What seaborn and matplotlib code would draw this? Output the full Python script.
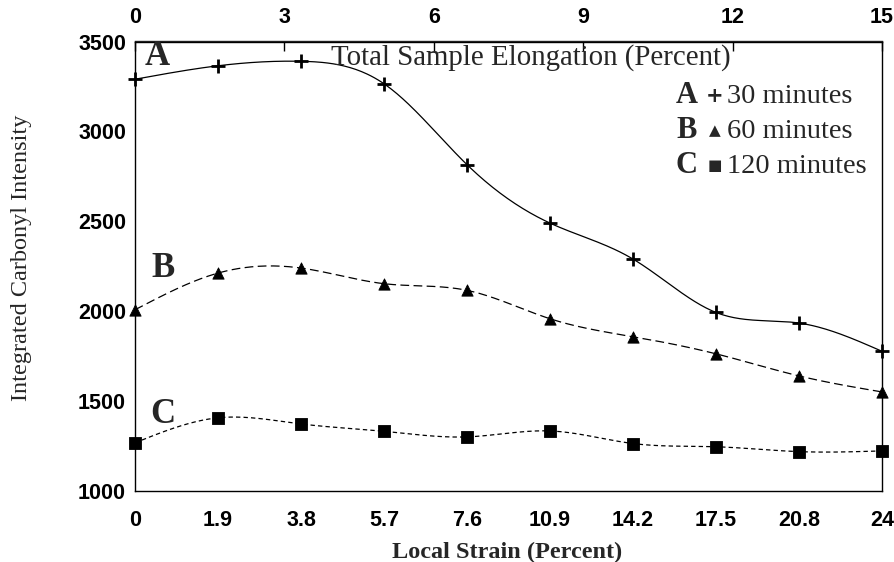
import numpy as np
import pandas as pd
import matplotlib
matplotlib.use("Agg")
import matplotlib.pyplot as plt
import seaborn as sns

# local strain categories (bottom axis) and total elongation ticks (top axis)
strain_labels = ["0", "1.9", "3.8", "5.7", "7.6", "10.9", "14.2", "17.5", "20.8", "24"]
elong_ticks = [0, 3, 6, 9, 12, 15]
y_ticks = [1000, 1500, 2000, 2500, 3000, 3500]

# integrated carbonyl intensity
a_30min = [3290, 3365, 3390, 3265, 2815, 2490, 2290, 1993, 1934, 1777]
b_60min = [2008, 2212, 2240, 2153, 2116, 1958, 1858, 1763, 1640, 1551]
c_120min = [1268, 1407, 1373, 1332, 1301, 1334, 1264, 1246, 1219, 1223]


def natural_spline(x, y, n=400):
    # smooth curve through the points, like the original plotting package did
    x = np.asarray(x, float)
    y = np.asarray(y, float)
    h = np.diff(x)
    m = len(x)
    A = np.zeros((m, m))
    r = np.zeros(m)
    A[0, 0] = A[-1, -1] = 1
    for i in range(1, m - 1):
        A[i, i - 1] = h[i - 1]
        A[i, i] = 2 * (h[i - 1] + h[i])
        A[i, i + 1] = h[i]
        r[i] = 3 * ((y[i + 1] - y[i]) / h[i] - (y[i] - y[i - 1]) / h[i - 1])
    c = np.linalg.solve(A, r)
    b = (y[1:] - y[:-1]) / h - h * (2 * c[:-1] + c[1:]) / 3
    d = (c[1:] - c[:-1]) / (3 * h)
    xs = np.linspace(x[0], x[-1], n)
    idx = np.clip(np.searchsorted(x, xs, side="right") - 1, 0, m - 2)
    dx = xs - x[idx]
    ys = y[idx] + b[idx] * dx + c[idx] * dx ** 2 + d[idx] * dx ** 3
    return xs, ys


sns.set_style("white")
plt.rcParams["font.family"] = ["Liberation Serif", "DejaVu Serif"]

fig = plt.figure(figsize=(8.95, 5.62), dpi=100)
ax = fig.add_axes([135 / 895, 1 - 491 / 562, 747 / 895, 449.5 / 562])

pos = np.arange(len(strain_labels))
series = [
    (a_30min, "-", "+"),
    (b_60min, (0, (7, 3.5)), "^"),
    (c_120min, (0, (3.5, 2.5)), "s"),
]
for vals, ls, mk in series:
    xs, ys = natural_spline(pos, vals)
    smooth = pd.DataFrame({"x": xs, "y": ys})
    sns.lineplot(data=smooth, x="x", y="y", ax=ax, color="black",
                 linewidth=0.9, linestyle=ls, sort=False, errorbar=None)
    pts = pd.DataFrame({"x": pos, "y": vals})
    if mk == "+":
        sns.scatterplot(data=pts, x="x", y="y", ax=ax, marker="+", s=90,
                        color="black", linewidth=2.0, clip_on=False, zorder=4)
    else:
        sns.scatterplot(data=pts, x="x", y="y", ax=ax, marker=mk, s=66,
                        color="black", edgecolor="black", linewidth=0.6,
                        clip_on=False, zorder=4)

ax.set_xlim(0, 9)
ax.set_ylim(1000, 3500)
ax.set_xticks(pos)
ax.set_xticklabels(strain_labels)
ax.set_yticks(y_ticks)
ax.set_xlabel("")
ax.set_ylabel("")

tick_font = {"family": "Liberation Sans", "weight": "bold", "size": 15.5}
for lab in ax.get_xticklabels() + ax.get_yticklabels():
    lab.set_fontproperties(matplotlib.font_manager.FontProperties(**tick_font))

ax.tick_params(axis="x", direction="in", length=7, width=1, pad=13.5,
               top=False, colors="black")
ax.tick_params(axis="y", direction="in", length=6, width=1, pad=6.5,
               right=False, colors="black")
for sp in ax.spines.values():
    sp.set_visible(True)
    sp.set_color("black")
    sp.set_linewidth(1.0)

top = ax.secondary_xaxis("top", functions=(lambda v: v * 15 / 9, lambda v: v * 9 / 15))
top.set_xticks(elong_ticks)
top.tick_params(direction="in", length=7, width=1, pad=10, colors="black")
for lab in top.get_xticklabels():
    lab.set_fontproperties(matplotlib.font_manager.FontProperties(**tick_font))
top.spines["top"].set_linewidth(1.0)

ax.text(0.262, 0.965, "Total Sample Elongation (Percent)", transform=ax.transAxes,
        fontsize=20.8, ha="left", va="center")

# curve letters
letter_kw = dict(transform=ax.transAxes, fontsize=25, weight="bold",
                 ha="center", va="center")
ax.text(0.0295, 0.966, "A", **letter_kw)
ax.text(0.0375, 0.496, "B", **letter_kw)
ax.text(0.0375, 0.170, "C", **letter_kw)

# key in the upper right
rows = [("A", "+", "30 minutes", 103), ("B", "\u25b2", "60 minutes", 138),
        ("C", "\u25a0", "120 minutes", 173)]
for letter, glyph, label, base in rows:
    yy = (491 - base) / 449.5
    ax.text((676 - 135) / 747, yy, letter, transform=ax.transAxes, fontsize=22,
            weight="bold", ha="left", va="baseline")
    ax.text((715 - 135) / 747, yy + 7 / 449.5, glyph, transform=ax.transAxes,
            fontsize=11 if glyph != "+" else 15, family="DejaVu Sans",
            weight="bold", ha="center", va="center")
    ax.text((727 - 135) / 747, yy, label, transform=ax.transAxes, fontsize=20.5,
            ha="left", va="baseline")

fig.text(507.5 / 895, 1 - 552 / 562, "Local Strain (Percent)", fontsize=17.5,
         weight="bold", ha="center", va="center")
fig.text(22 / 895, 1 - 258 / 562, "Integrated Carbonyl Intensity", fontsize=17.5,
         rotation=90, ha="center", va="center")

fig.savefig("out.png", dpi=100)
